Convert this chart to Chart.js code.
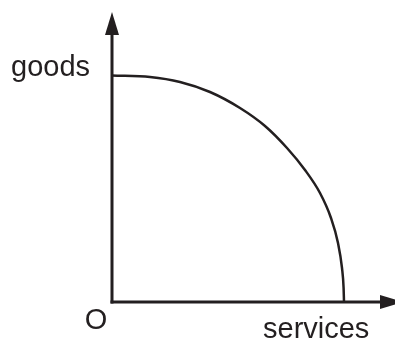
<!DOCTYPE html>
<html>
<head>
<meta charset="utf-8">
<script src="https://cdn.jsdelivr.net/npm/chart.js@4"></script>
<style>
  html, body { margin: 0; padding: 0; background: #fff; }
  canvas { display: block; }
</style>
</head>
<body>
<canvas id="ppf" width="395" height="340"></canvas>
<script>
  // frontier (services, goods), origin = 0,0
  const services = [0, 38, 68, 98, 128, 153, 175, 193, 208, 219, 226, 230, 231.6, 232];
  const goods    = [226.5, 225, 220, 210, 194, 176, 154, 132, 109, 84, 59, 34, 14, 0];

  const axisLabels = { x: 'services', y: 'goods', origin: 'O' };
  const axisEnds = { x: 291, y: 290 }; // where the arrow tips sit

  const ink = '#231f20';
  const labelFont = '29px "Liberation Sans", Arial, sans-serif';

  const points = services.map((s, i) => ({ x: s, y: goods[i] }));

  const axesPlugin = {
    id: 'axesPlugin',
    afterDraw(chart) {
      const ctx = chart.ctx;
      const xs = chart.scales.x, ys = chart.scales.y;
      const ox = xs.getPixelForValue(0), oy = ys.getPixelForValue(0);
      const xEnd = xs.getPixelForValue(axisEnds.x);
      const yEnd = ys.getPixelForValue(axisEnds.y);
      const headLen = 23, headHalf = 7;

      ctx.save();
      ctx.strokeStyle = ink;
      ctx.fillStyle = ink;
      ctx.lineWidth = 3;
      ctx.lineCap = 'butt';

      // y axis
      ctx.beginPath();
      ctx.moveTo(ox, oy + 1.5);
      ctx.lineTo(ox, yEnd + headLen - 1);
      ctx.stroke();
      ctx.beginPath();
      ctx.moveTo(ox, yEnd);
      ctx.lineTo(ox - headHalf, yEnd + headLen);
      ctx.lineTo(ox + headHalf, yEnd + headLen);
      ctx.closePath();
      ctx.fill();

      // x axis
      ctx.beginPath();
      ctx.moveTo(ox - 1.5, oy);
      ctx.lineTo(xEnd - headLen + 1, oy);
      ctx.stroke();
      ctx.beginPath();
      ctx.moveTo(xEnd, oy);
      ctx.lineTo(xEnd - headLen, oy - headHalf);
      ctx.lineTo(xEnd - headLen, oy + headHalf);
      ctx.closePath();
      ctx.fill();

      // labels
      ctx.font = labelFont;
      ctx.fillStyle = ink;
      ctx.textBaseline = 'alphabetic';
      ctx.textAlign = 'left';
      ctx.fillText(axisLabels.y, ox - 101, ys.getPixelForValue(goods[0]));
      ctx.fillText(axisLabels.x, ox + 151, oy + 36);
      ctx.textAlign = 'center';
      ctx.fillText(axisLabels.origin, ox - 16, oy + 27);
      ctx.restore();
    }
  };

  new Chart(document.getElementById('ppf'), {
    type: 'scatter',
    data: {
      datasets: [{
        data: points,
        showLine: true,
        borderColor: ink,
        borderWidth: 2.5,
        pointRadius: 0,
        cubicInterpolationMode: 'monotone',
        fill: false
      }]
    },
    options: {
      responsive: false,
      animation: false,
      devicePixelRatio: 1,
      layout: { padding: { left: 112, right: 0, top: 0, bottom: 38 } },
      scales: {
        x: { type: 'linear', min: 0, max: 283, display: false },
        y: { type: 'linear', min: 0, max: 302, display: false }
      },
      plugins: {
        legend: { display: false },
        tooltip: { enabled: false }
      }
    },
    plugins: [axesPlugin]
  });
</script>
</body>
</html>
